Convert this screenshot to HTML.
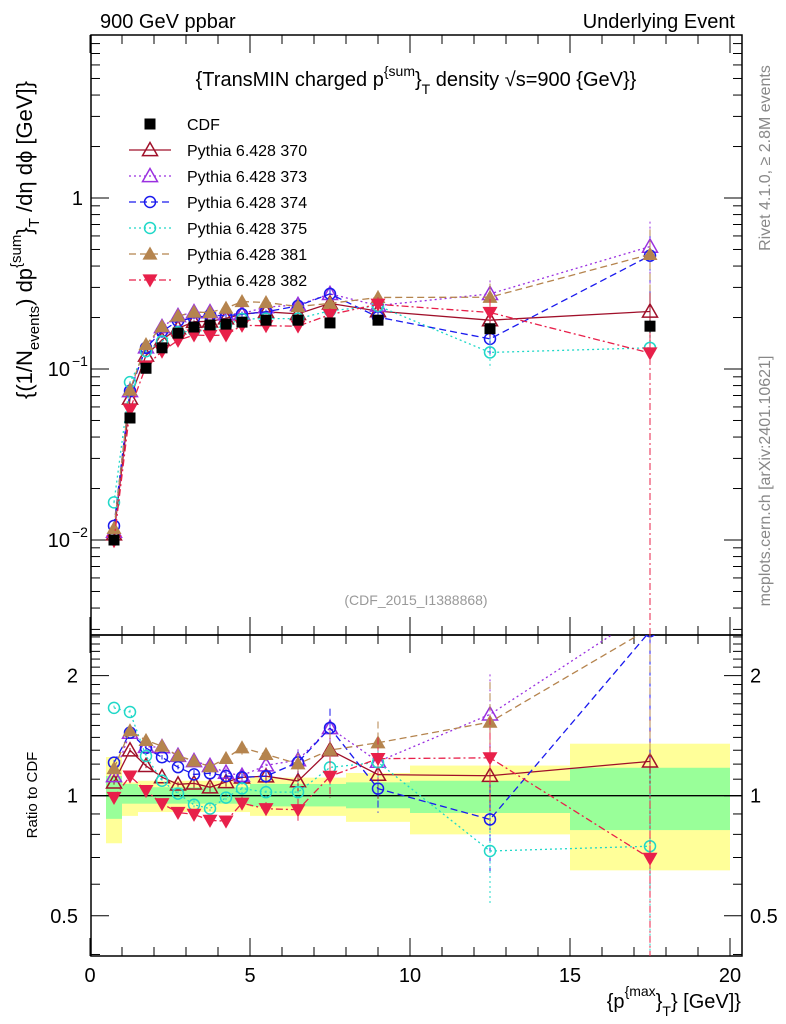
<!DOCTYPE html>
<html><head><meta charset="utf-8"><style>
body{margin:0;background:#fff;}
svg{display:block;font-family:"Liberation Sans",Arial,sans-serif;}
</style></head><body>
<svg id="chart" width="786" height="1024" viewBox="0 0 786 1024" xmlns="http://www.w3.org/2000/svg">
<defs>
<clipPath id="cm"><rect x="91" y="35" width="651" height="600"/></clipPath>
<clipPath id="cr"><rect x="91" y="635" width="651" height="321"/></clipPath>
</defs>
<rect x="0" y="0" width="786" height="1024" fill="#fff"/>
<g id="bands" clip-path="url(#cr)"></g>
<g id="axes"></g>
<g id="series-main" clip-path="url(#cm)"></g>
<g id="series-ratio" clip-path="url(#cr)"></g>
<g id="texts">
<text x="100" y="28" font-size="20">900 GeV ppbar</text>
<text x="735" y="28" font-size="20" text-anchor="end">Underlying Event</text>
<text x="416" y="86" font-size="20" text-anchor="middle">{TransMIN charged p<tspan dy="-10" font-size="14">{sum</tspan><tspan dy="10">}</tspan><tspan dy="8" font-size="14">T</tspan><tspan dy="-8"> density √s=900 {GeV}}</tspan></text>
<text x="416" y="605" font-size="14" fill="#999" text-anchor="middle">(CDF_2015_I1388868)</text>
<text transform="translate(770,158) rotate(-90)" font-size="16" fill="#888" text-anchor="middle">Rivet 4.1.0, ≥ 2.8M events</text>
<text transform="translate(770,481) rotate(-90)" font-size="16" fill="#888" text-anchor="middle">mcplots.cern.ch [arXiv:2401.10621]</text>
<text transform="translate(32,240) rotate(-90)" font-size="22" text-anchor="middle">{(1/N<tspan dy="7" font-size="15">events</tspan><tspan dy="-7">) dp</tspan><tspan dy="-11" font-size="15">{sum</tspan><tspan dy="11">}</tspan><tspan dy="7" font-size="15">T</tspan><tspan dy="-7"> /dη  dϕ [GeV]}</tspan></text>
<text transform="translate(37,795) rotate(-90)" font-size="15" text-anchor="middle">Ratio to CDF</text>
<text x="741" y="1008" font-size="20" text-anchor="end">{p<tspan dy="-12" font-size="14">{max</tspan><tspan dy="12">}</tspan><tspan dy="8" font-size="14">T</tspan><tspan dy="-8">} [GeV]}</tspan></text>
</g>
<g id="legend"></g>
</svg>
<script>
const xs=[0.75,1.25,1.75,2.25,2.75,3.25,3.75,4.25,4.75,5.5,6.5,7.5,9,12.5,17.5];
const cdf=[0.0100,0.0517,0.101,0.133,0.162,0.176,0.181,0.183,0.188,0.193,0.193,0.186,0.193,0.172,0.178];
const cdfErr=[0.0004,0.002,0.003,0.004,0.004,0.005,0.005,0.005,0.006,0.006,0.007,0.008,0.009,0.012,0.015];
const s370=[0.0108,0.0672,0.120,0.148,0.173,0.189,0.190,0.198,0.209,0.216,0.210,0.242,0.218,0.193,0.217];
const s373=[0.0112,0.0744,0.134,0.176,0.204,0.215,0.215,0.209,0.211,0.230,0.237,0.275,0.235,0.275,0.52];
const s374=[0.0121,0.0744,0.133,0.166,0.191,0.199,0.206,0.205,0.209,0.216,0.234,0.275,0.201,0.150,0.46];
const s375=[0.0166,0.0838,0.127,0.145,0.164,0.167,0.168,0.181,0.196,0.197,0.197,0.219,0.234,0.125,0.133];
const s381=[0.0117,0.0752,0.139,0.177,0.204,0.215,0.214,0.227,0.248,0.245,0.232,0.242,0.262,0.263,0.468];
const s382=[0.0099,0.0579,0.104,0.127,0.147,0.158,0.157,0.158,0.180,0.179,0.178,0.208,0.239,0.214,0.124];
const relErr=[0.01,0.01,0.01,0.01,0.01,0.02,0.02,0.02,0.03,0.03,0.05,0.09,0.1,0.2,0.4];
const binEdges=[0.5,1,1.5,2,2.5,3,3.5,4,4.5,5,6,7,8,10,15,20];
const yelLo=[0.76,0.89,0.91,0.91,0.91,0.91,0.91,0.91,0.91,0.89,0.89,0.89,0.86,0.80,0.65];
const yelHi=[1.25,1.08,1.09,1.09,1.09,1.09,1.09,1.09,1.09,1.11,1.11,1.11,1.14,1.19,1.35];
const grnLo=[0.875,0.955,0.955,0.955,0.955,0.955,0.955,0.955,0.955,0.94,0.94,0.94,0.93,0.905,0.82];
const grnHi=[1.12,1.07,1.05,1.05,1.05,1.05,1.05,1.05,1.05,1.07,1.07,1.07,1.08,1.09,1.175];
const xTicks=[0,5,10,15,20];
const mainTickLabels=["1","10","10"];
const ratioTicks=[2,1,0.5];

const NS="http://www.w3.org/2000/svg";
function X(v){return 90+v*32;}
function YM(v){return 198-171*Math.log10(v);}
function YR(r){return 795.7-399*Math.log10(r);}
function el(tag,attrs,parent){const e=document.createElementNS(NS,tag);for(const k in attrs)e.setAttribute(k,attrs[k]);parent.appendChild(e);return e;}
const bands=document.getElementById('bands'),axes=document.getElementById('axes');
const gm=document.getElementById('series-main'),gr=document.getElementById('series-ratio'),lg=document.getElementById('legend');

for(let i=0;i<yelLo.length;i++){
  const x0=X(binEdges[i]),w=X(binEdges[i+1])-x0;
  const y=el('rect',{x:x0,y:YR(yelHi[i]),width:w,height:YR(yelLo[i])-YR(yelHi[i]),fill:'#ffff99'},bands);
  
  
  const g=el('rect',{x:x0,y:YR(grnHi[i]),width:w,height:YR(grnLo[i])-YR(grnHi[i]),fill:'#99ff99'},bands);
  
  
}
const ul=el('line',{x1:91,x2:742,y1:YR(1),y2:YR(1),stroke:'#000','stroke-width':1.3},axes);



const f1=el('rect',{x:91,y:35,width:651,height:600,fill:'none',stroke:'#000','stroke-width':1.5},axes);


const f2=el('rect',{x:91,y:635,width:651,height:321,fill:'none',stroke:'#000','stroke-width':1.5},axes);



for(let v=0;v<=20.3;v+=1){
  const major=Math.abs(v-Math.round(v/5)*5)<1e-6;const L=major?18:9;const x=X(v);
  if(x>742)break;
  [[35,1],[635,-1],[635,1],[956,-1]].forEach(([y0,d])=>{el('line',{x1:x,x2:x,y1:y0,y2:y0+d*L,stroke:'#000','stroke-width':1},axes);});
}
xTicks.forEach(v=>{const t=el('text',{x:X(v),y:982,'font-size':20,'text-anchor':'middle'},axes);t.textContent=v;
  
  });
for(let d=-3;d<=0;d++){for(let m=1;m<=9;m++){const v=m*Math.pow(10,d);const y=YM(v);if(y<35||y>635)continue;
  const L=m==1?18:9;el('line',{x1:91,x2:91+L,y1:y,y2:y,stroke:'#000'},axes);el('line',{x1:742,x2:742-L,y1:y,y2:y,stroke:'#000'},axes);}}
[1,0.1,0.01].forEach((v,i)=>{
  const t=el('text',{x:i==0?83:70,y:YM(v)+7,'font-size':20,'text-anchor':'end'},axes);t.textContent=mainTickLabels[i];
  
  
  if(i>0){const s2=el('text',{x:72,y:YM(v)-3,'font-size':14},axes);s2.textContent=i==1?"−1":"−2";}
});
[0.4,0.5,0.6,0.7,0.8,0.9,1,1.1,1.2,1.3,1.4,1.5,1.6,1.7,1.8,1.9,2,2.1,2.2,2.3,2.4,2.5].forEach(v=>{const y=YR(v);if(y<635||y>956)return;
  const L=(v==0.5||v==1||v==2)?18:9;el('line',{x1:91,x2:91+L,y1:y,y2:y,stroke:'#000'},axes);el('line',{x1:742,x2:742-L,y1:y,y2:y,stroke:'#000'},axes);});
ratioTicks.forEach(v=>{
  const t=el('text',{x:78,y:YR(v)+7,'font-size':20,'text-anchor':'end'},axes);t.textContent=v;
  
  
  const t2=el('text',{x:750,y:YR(v)+7,'font-size':20},axes);t2.textContent=v;
  
  
});

function marker(g,type,col,x,y){
  const s=7.5;
  if(type=='sq') return el('rect',{x:x-5.5,y:y-5.5,width:11,height:11,fill:'#000'},g);
  if(type=='otri') return el('polygon',{points:`${x},${y-s} ${x-s},${y+s*0.75} ${x+s},${y+s*0.75}`,fill:'none',stroke:col,'stroke-width':1.5},g);
  if(type=='ftri') return el('polygon',{points:`${x},${y-s} ${x-s},${y+s*0.75} ${x+s},${y+s*0.75}`,fill:col},g);
  if(type=='dtri') return el('polygon',{points:`${x},${y+s} ${x-s},${y-s*0.75} ${x+s},${y-s*0.75}`,fill:col},g);
  if(type=='ocirc') return el('circle',{cx:x,cy:y,r:5.5,fill:'none',stroke:col,'stroke-width':1.5},g);
}
const series=[
 {n:'370',d:s370,c:'#a0102a',m:'otri',dash:''},
 {n:'373',d:s373,c:'#9a30e0',m:'otri',dash:'2,3'},
 {n:'374',d:s374,c:'#1a1aee',m:'ocirc',dash:'7,4'},
 {n:'375',d:s375,c:'#20d8c8',m:'ocirc',dash:'2,3'},
 {n:'381',d:s381,c:'#b5844e',m:'ftri',dash:'7,4'},
 {n:'382',d:s382,c:'#e8204a',m:'dtri',dash:'7,3,2,3'}
];
series.forEach(s=>{
  const pm=xs.map((x,i)=>X(x)+','+YM(s.d[i])).join(' ');
  const l=el('polyline',{points:pm,fill:'none',stroke:s.c,'stroke-width':1.3,'stroke-dasharray':s.dash},gm);
  
  
  const pr=xs.map((x,i)=>X(x)+','+YR(s.d[i]/cdf[i])).join(' ');
  const l2=el('polyline',{points:pr,fill:'none',stroke:s.c,'stroke-width':1.3,'stroke-dasharray':s.dash},gr);
  
  
  xs.forEach((x,i)=>{
    const v=s.d[i],e=v*relErr[i],r=v/cdf[i],er=r*relErr[i]*1.3;
    const low=(s.n=='382'&&i==xs.length-1)?1e-4:Math.max(v-e,1e-4);
    el('line',{x1:X(x),x2:X(x),y1:YM(v+e),y2:YM(low),stroke:s.c,'stroke-dasharray':s.dash},gm);
    el('line',{x1:X(x),x2:X(x),y1:YR(r+er),y2:YR(Math.max(r-er,0.01)),stroke:s.c,'stroke-dasharray':s.dash},gr);
    const p=marker(gm,s.m,s.c,X(x),YM(v));
    
    
    const q=marker(gr,s.m,s.c,X(x),YR(r));
    
    
  });
});
xs.forEach((x,i)=>{
  el('line',{x1:X(x),x2:X(x),y1:YM(cdf[i]+cdfErr[i]),y2:YM(cdf[i]-cdfErr[i]),stroke:'#000'},gm);
  const p=marker(gm,'sq','#000',X(x),YM(cdf[i]));
  
  
});
const legItems=[{n:'CDF',m:'sq',c:'#000',dash:null}].concat(series.map(s=>({n:'Pythia 6.428 '+s.n,m:s.m,c:s.c,dash:s.dash})));
legItems.forEach((it,i)=>{
  const y=124+i*26;
  const g=el('g',{},lg);
  
  
  if(it.dash!==null) el('line',{x1:129,x2:171,y1:y,y2:y,stroke:it.c,'stroke-width':1.3,'stroke-dasharray':it.dash},g);
  marker(g,it.m,it.c,150,y);
  const t=el('text',{x:187,y:y+6,'font-size':16},g);t.textContent=it.n;
});
</script>
</body></html>
